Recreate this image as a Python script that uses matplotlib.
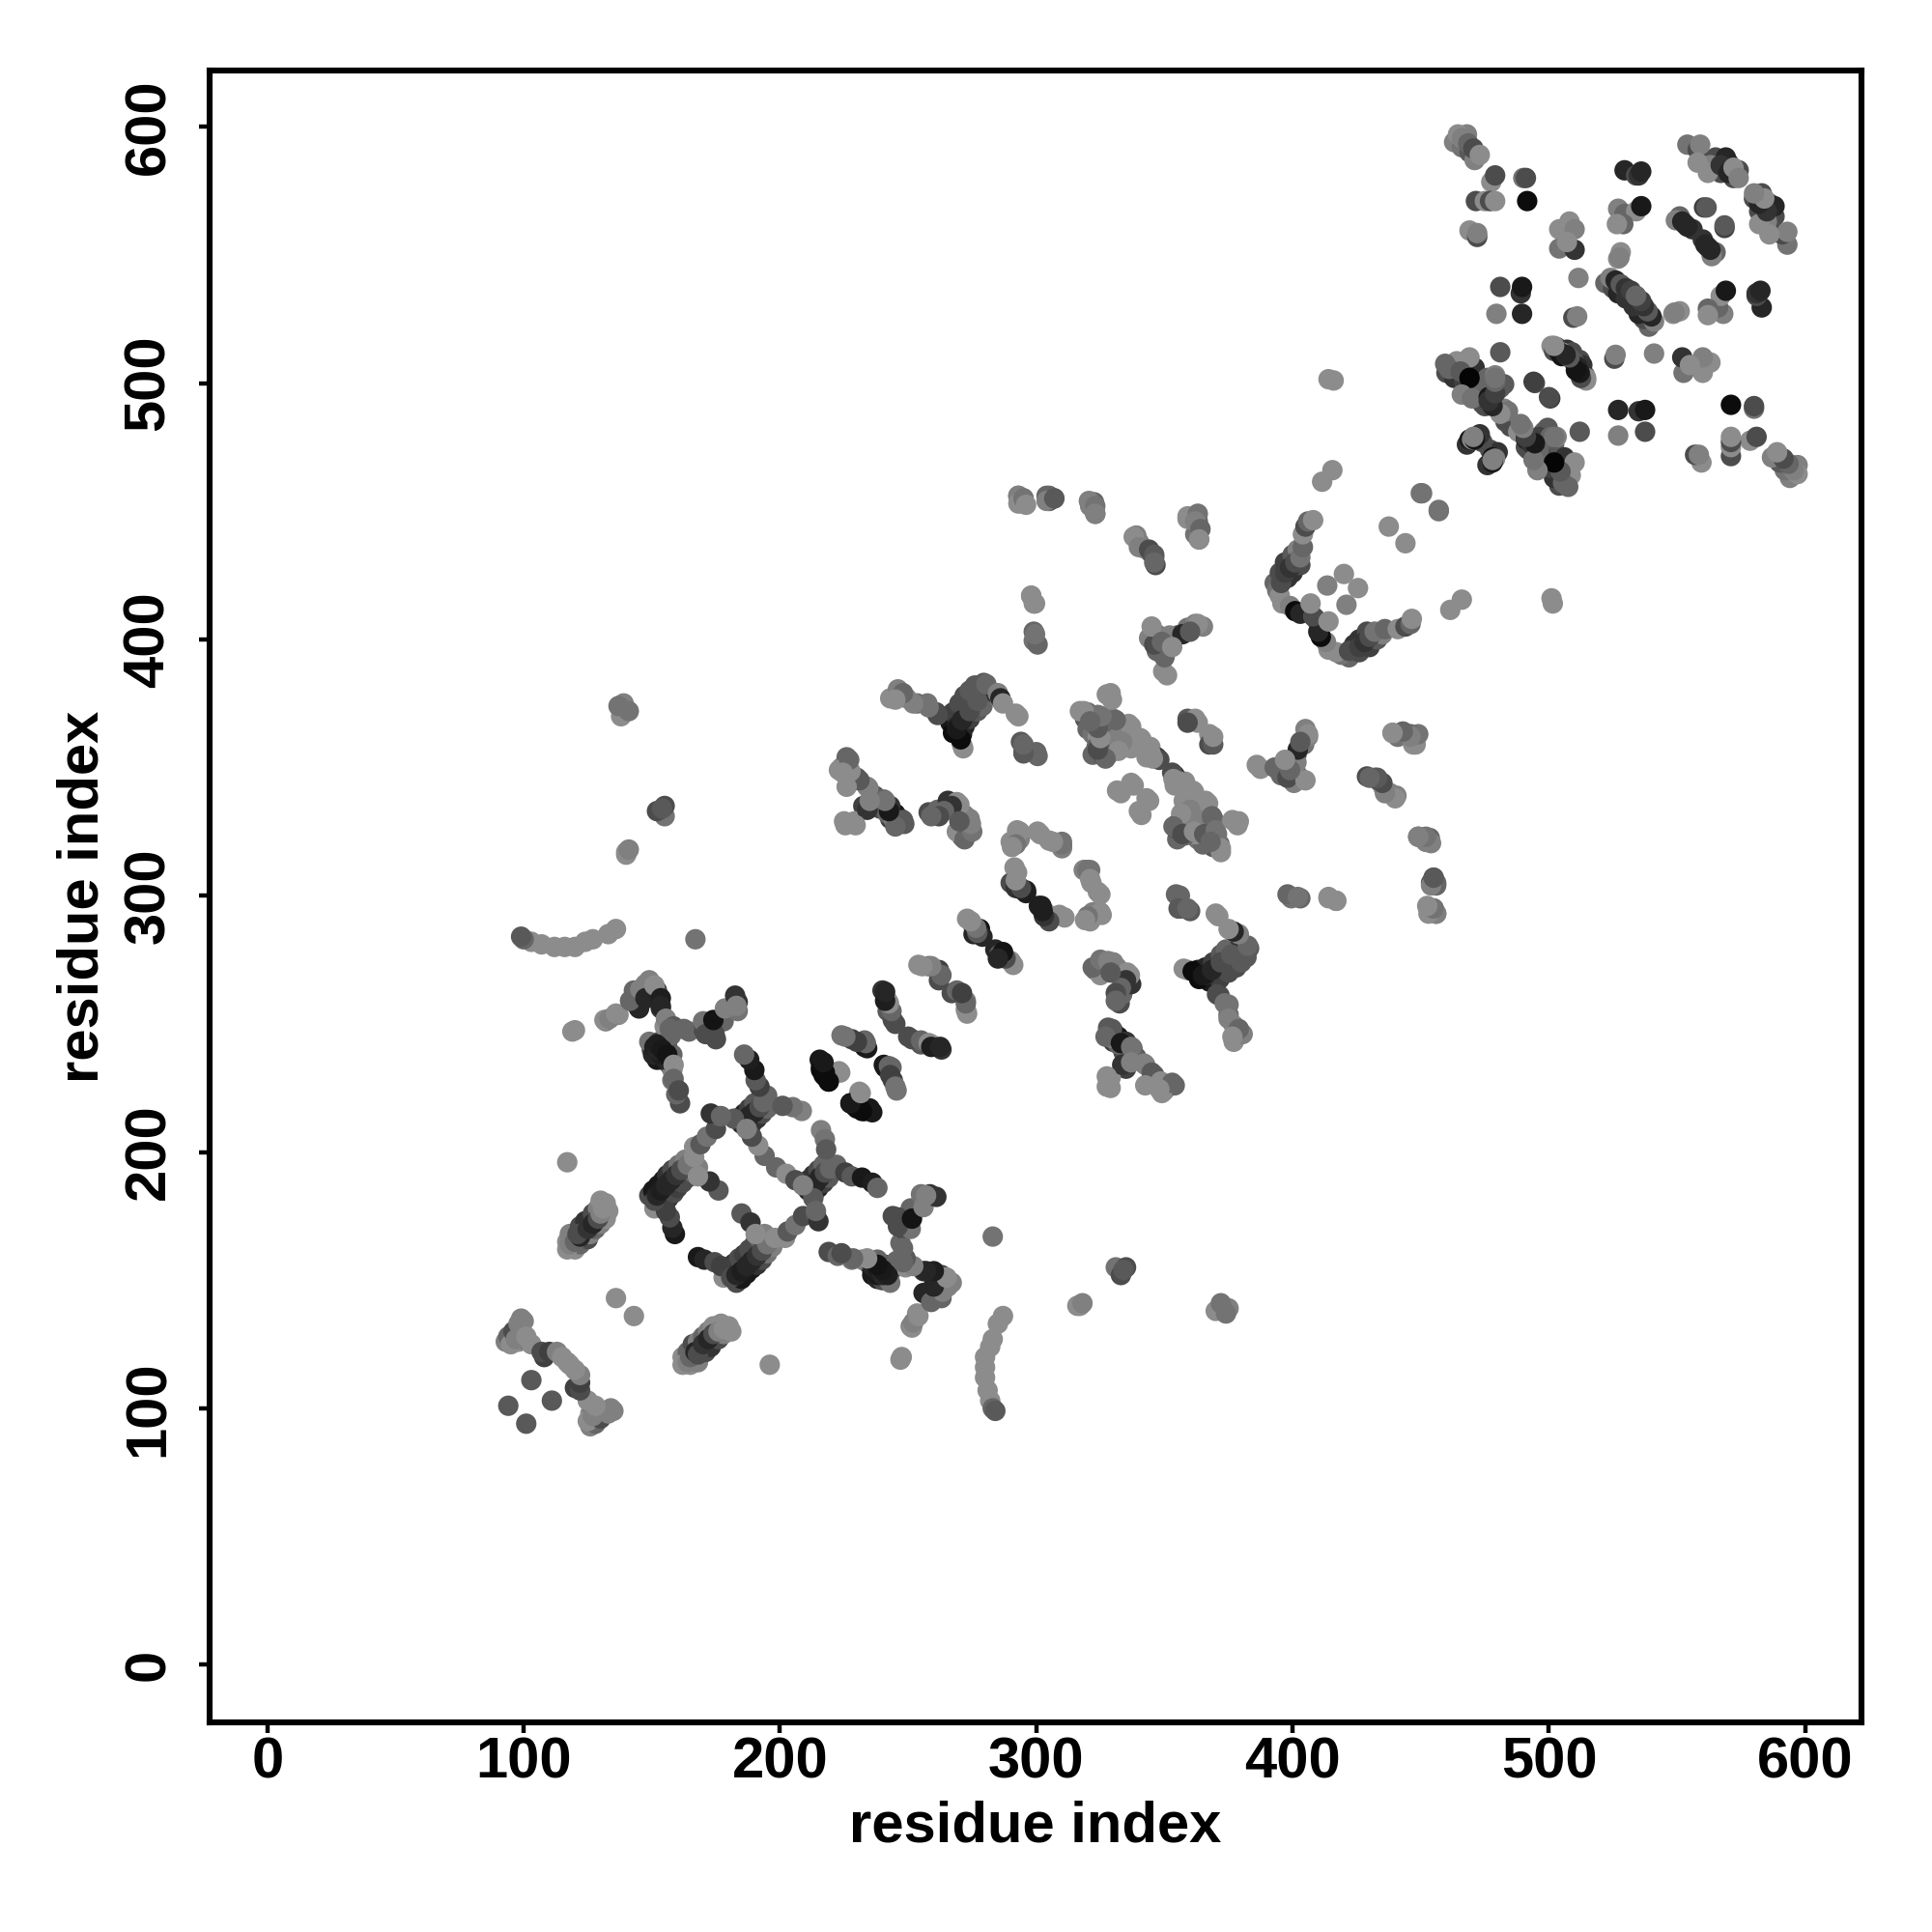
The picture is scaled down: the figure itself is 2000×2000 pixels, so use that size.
import matplotlib
matplotlib.use('Agg')
import matplotlib.pyplot as plt

# contact map: (residue i, residue j, grey level)
# the map is symmetric, so each contact is listed once and drawn both ways
ticks = [0, 100, 200, 300, 400, 500, 600]
axis_label = 'residue index'

# lower left corner
corner_a = [(94, 128, .4), (95, 125, .55), (96, 130, .3), (97, 127, .5), (98, 133, .5), (100, 134, .5),
            (101, 128, .55), (103, 125, .55), (107, 122, .3), (110, 122, .25), (113, 122, .5), (115, 120, .55),
            (94, 101, .35), (103, 111, .35), (136, 143, .55)]
corner_b = [(162, 117, .55), (164, 118, .5), (165, 120, .4), (167, 122, .15), (168, 121, .3), (170, 125, .2),
            (172, 127, .15), (174, 129, .3), (176, 130, .5), (178, 131, .55), (180, 132, .55)]
singles_low = [(196, 117, .55), (247, 119, .55), (247.5, 120, .55), (283, 167, .45), (317, 140, .55),
               (318, 141, .5), (333, 152, .3), (334, 154, .35), (372, 141, .45), (374, 137, .45)]
curve_280 = [(287, 136, .55), (285, 133, .55), (283, 127, .55), (282, 124, .55), (280, 120, .55),
             (280, 116, .55), (280, 112, .55), (281, 107, .55), (282, 103, .55), (283, 100, .4), (284, 99, .35)]

# central block
strand_a = [(178, 151, .55), (168, 159, .1), (170.5, 158, .15), (174.5, 157, .3), (177, 155.5, .25),
            (181, 151, .3), (183, 152, .15), (185, 153.5, .12), (187, 155.5, .15), (189, 157.5, .15),
            (191, 159.5, .2), (193, 161.5, .3), (195, 164, .45), (198, 166.5, .55), (202, 166.5, .55),
            (203, 169, .35), (206, 171.5, .45), (209, 175, .3), (214, 176, .35), (215, 173, .2)]
strand_b = [(211, 185, .15), (212.5, 186.5, .1), (214, 188, .15), (215.5, 190, .15), (217.5, 192, .3),
            (219.5, 193.5, .4), (222, 195, .4), (225.5, 192, .25), (228, 190.5, .35), (232, 190, .1),
            (236, 188, .12), (238, 186, .4), (216, 208.5, .5), (217.5, 205, .45), (218, 201, .35),
            (213, 182, .35), (214, 177, .4)]
strand_c = [(198.5, 194, .4), (202.5, 191.5, .55), (206, 189, .3), (209, 187, .5),
            (185, 176, .35), (188.5, 172.5, .2), (190.5, 168, .55)]
strand_d = [(219, 161, .3), (222.5, 159.5, .4), (228, 158, .45), (232, 158, .5), (236, 155.5, .15),
            (238, 153.5, .12), (240, 152, .15), (242.5, 155, .3), (245.5, 157.5, .4), (247, 164.5, .4),
            (248, 170, .3), (249.5, 174, .15), (251, 178, .4), (255, 183.5, .45), (258.5, 183.5, .2),
            (244, 175, .3)]
strand_e = [(249, 155, .55), (256, 153.5, .2), (260, 152, .2), (263.5, 151, .55), (257.5, 144, .4),
            (253.5, 137, .55), (251, 132, .5), (256, 145, .15), (260, 148, .2), (263, 148, .5)]
strand_f = [(131.5, 251.5, .55), (133.5, 252, .5), (136, 254, .55), (141.5, 259, .4), (145.5, 263.5, .5),
            (147.5, 265.5, .5), (147.5, 260, .15), (151, 265, .55), (153.5, 260, .12), (153.5, 257, .15),
            (155.5, 252, .5), (158.5, 249, .35), (162.5, 248, .4), (170, 251, .45), (171, 246, .3),
            (174.5, 246, .3), (174, 251.5, .08), (178.5, 256, .5), (182.5, 261, .2), (183, 257, .5)]
strand_g = [(152, 242, .12), (154, 240, .1), (156, 238, .08), (158.5, 234, .55), (158.5, 228.5, .4),
            (160.5, 224, .3), (157, 248, .4)]

# middle diagonal
band_a = [(243, 377, .55), (246, 380.5, .5), (249.5, 377, .55), (253.5, 375, .4), (257.5, 375, .45),
          (261, 371.5, .3), (266.5, 367.5, .1), (267.5, 371.5, .25), (270, 375, .3), (272, 378, .3),
          (274, 380, .35), (276, 382, .35), (279.5, 383, .35), (284, 379, .2), (286, 376.5, .55),
          (292, 371, .55), (267.5, 363.5, .05), (269, 366, .15), (271, 359, .55), (294, 360, .35),
          (295, 356, .3), (300, 356, .4), (299, 403, .4), (299, 399.5, .45)]
band_b = [(226, 354, .4), (223, 349, .55), (226, 348.5, .4), (230, 346, .35), (234, 342.5, .5),
          (232.5, 335, .25), (236, 335, .3), (240.5, 337.5, .4), (239, 334, .3), (242, 332, .4),
          (244.5, 329.5, .5), (248, 329.5, .35), (225, 329, .55), (229, 329, .55)]
band_c = [(258, 332.5, .3), (261.5, 333.5, .4), (265.5, 337, .2), (269, 336.5, .55), (272, 331.5, .5),
          (274, 330, .5), (274, 325.5, .4), (271, 323, .4), (269, 325, .55)]
band_d = [(290, 321, .55), (292.5, 325.5, .55), (293.5, 322, .5), (300.5, 325, .55), (305, 321.5, .55),
          (310, 319, .35), (310, 321, .45)]
band_e = [(291.5, 311, .55), (290, 305, .3), (292, 303, .2), (294, 302.5, .12), (296, 302, .12),
          (301, 296, .12), (303, 294, .3), (306, 292, .55), (309, 292.5, .55)]
band_f = [(318.5, 310, .5), (320, 310, .45), (321, 306.5, .55), (324, 301.5, .55), (325, 293.5, .55),
          (320, 292, .45), (319, 290.5, .55)]
band_g = [(273, 291, .55), (275.5, 288, .3), (278, 287, .08), (275.5, 285, .15), (284, 279, .15),
          (285.5, 277, .35), (287.5, 276.5, .45), (290, 274.5, .55)]
band_h = [(254, 273, .55), (258, 272.5, .4), (262, 271, .25), (267, 262, .3), (269, 263, .4),
          (272.5, 259, .5), (272.5, 255.5, .55), (240, 263, .2), (242, 259, .55), (242, 255, .35), (244, 251.5, .3)]
band_i = [(250, 245, .3), (255, 243.5, .4), (258, 242.5, .55), (259, 241, .12), (262.5, 241, .15),
          (224, 245.5, .45), (228, 244, .25), (233, 243.5, .4), (233, 241, .1)]
band_j = [(215.5, 236, .1), (216, 232, .05), (217, 230, .05), (219, 227.5, .1), (223, 231.5, .55),
          (240.5, 234, .1), (242.5, 233.5, .4), (243, 230, .25), (245, 225.5, .45),
          (231, 223.5, .55), (227.5, 219, .05), (231, 217.5, .05), (235, 217, .1)]

# right of the middle
patch_a = [(317, 372, .55), (320, 371.5, .4), (324, 370.5, .45), (330, 369, .45), (336, 367, .55),
           (340.5, 361.5, .55), (344.5, 358, .55), (347, 354, .2), (343, 354, .55), (324, 362, .55),
           (331.5, 361.5, .5), (326, 354.5, .35), (323.5, 358, .4), (337, 357.5, .55), (327.5, 378.5, .55),
           (359, 369, .35), (362, 369, .55), (367.5, 363, .55), (367.5, 359, .3)]
patch_b = [(347, 402, .45), (344, 400.5, .5), (348, 395, .55), (349.5, 387.5, .55), (352, 399, .2),
           (355, 401.5, .35), (359, 404.5, .45), (351, 397, .4), (362, 406, .5), (365, 405, .5)]
patch_c = [(331.5, 341, .55), (337, 344, .55), (343, 338, .55), (340, 333, .55)]
patch_d = [(353, 348, .3), (353.5, 345.5, .55), (356, 344.5, .55), (361, 341, .55), (366, 337, .55),
           (360, 333.5, .5), (356.5, 332, .55), (368.5, 331, .4), (353.5, 327, .4), (357, 324, .3),
           (361.5, 325, .55), (365.5, 324, .35), (370, 325.5, .45), (372, 318.5, .55), (376.5, 329.5, .55),
           (379, 329, .55), (368, 321, .4)]
patch_e = [(386, 351, .55), (393, 350, .4), (395.5, 347, .4), (398, 346, .3), (401.5, 352, .5),
           (402, 357, .15), (406, 363, .55), (405, 345, .55), (399, 349, .4), (403, 360, .35), (397, 353, .55)]
patch_f = [(354.5, 300.5, .4), (355.5, 295, .35), (359, 295, .4), (370, 293, .55), (398, 300.5, .4),
           (402, 299.5, .45), (414, 299.5, .55), (417, 298, .55)]
patch_g = [(322, 272, .4), (325, 275, .45), (328, 274.5, .5), (331.5, 271, .5), (335.5, 270, .55),
           (335, 267, .2), (333, 264, .4), (331, 262, .3), (331, 259, .4), (329, 270, .35)]
patch_h = [(357.5, 271.5, .55), (361, 270.5, .05), (365, 269, .1), (368.5, 271, .15), (372, 274, .3),
           (376, 277, .35), (382.5, 280.5, .4), (379, 285, .5), (377, 286, .15), (375, 287, .55),
           (370.5, 261.5, .3), (373.5, 258, .45), (375, 252, .5), (379, 248, .4), (376.5, 245, .55)]
patch_i = [(328, 248.5, .35), (327, 245, .4), (333, 242.5, .1), (337, 241, .45), (333.5, 234, .2),
           (337, 235, .5), (342, 234.5, .5), (345, 231, .35), (348.5, 227.5, .55), (353, 227, .4),
           (348, 224.5, .55), (342.5, 226, .55), (327.5, 229.5, .55), (327.5, 225.5, .55)]
patch_j = [(429, 346.5, .3), (432, 346, .4), (434, 344.5, .25), (435.5, 342, .5), (438, 340, .5),
           (440.5, 339, .5), (439, 363.5, .5), (443, 364, .55), (446, 363, .4), (448, 362.5, .3),
           (447, 359, .55), (449, 323, .45), (453.5, 322.5, .4), (454, 320.5, .5), (455, 307, .35),
           (456, 304, .4), (453, 295, .5), (456, 293, .4)]

# upper middle
ridge_a = [(293, 456, .5), (293, 453, .55), (295, 455, .45), (296, 452.5, .55), (305, 456, .4), (304, 454, .5),
           (307, 455, .35), (321, 452.5, .5), (323, 452, .45), (323, 449, .5), (338, 440, .55), (340, 436, .5),
           (344, 435, .3), (346, 433, .35), (346, 430, .4), (359, 448, .55), (363, 449, .45), (362, 446, .5),
           (364, 443, .4), (363.5, 439, .55), (298, 417, .55), (299, 414, .55)]
ridge_b = [(394, 419, .45), (395, 417, .55), (395.5, 422, .3), (397, 426, .25), (399, 428, .2), (401, 430, .3),
           (403, 432, .45), (404, 436, .4), (404, 441, .55), (405, 444, .3), (406, 446, .4), (408, 446.5, .55),
           (396, 414, .55), (399, 413, .5), (401, 411, .05), (403, 410, .15), (409, 408, .3)]
ridge_c = [(413.5, 421, .5), (420, 425.5, .55), (407, 414, .55), (437.5, 444, .55), (450, 457, .45),
           (457, 450.5, .45), (411.5, 461.5, .55), (415.5, 466, .55), (414, 501.5, .55), (416, 501, .55)]

# upper right block
block_a = [(464.5, 597, .55), (466, 595.5, .5), (468.5, 593.5, .4), (470.5, 591.5, .3), (473, 589, .55),
           (477.5, 578.5, .55), (479, 581, .3), (490, 580, .45), (491, 580, .3), (471.5, 571, .3), (475, 571, .55),
           (477, 571, .3), (479, 571, .55), (491.5, 571, .05), (469, 559.5, .55), (472, 557, .3), (472, 558.5, .5)]
block_b = [(481, 537.5, .3), (489, 535, .2), (489.5, 537.5, .1), (479.5, 527, .5), (489.5, 527, .15),
           (511.5, 541, .5), (509.5, 525.5, .3), (511, 526, .5), (508, 563, .55), (504, 560, .55), (510, 560, .5),
           (504, 552.5, .45), (510, 552, .2), (507, 555, .55)]
block_c = [(527, 568, .5), (529.5, 566, .4), (534, 567, .55), (536, 569, .1), (529, 562, .4), (526.5, 562, .55),
           (528, 551, .55), (527, 548.5, .55), (527.5, 549, .5), (529.5, 583, .15), (534, 581, .3), (535, 581, .2),
           (536, 582.5, .15)]
block_d = [(554, 593, .45), (558, 591, .3), (559, 593, .5), (558, 586, .55), (562, 582, .55), (569, 588, .15),
           (567, 585, .2), (570, 582, .15), (572, 584, .55), (574, 580, .5), (549.5, 563.5, .5), (552, 563, .15),
           (554, 561, .15), (560.5, 568.5, .25), (561.5, 568.5, .35)]
block_e = [(524, 541, .5), (526, 540, .15), (528, 538.5, .35), (530, 537, .2), (532, 536, .25), (534, 534, .4)]
block_f = [(481, 512, .35), (469, 510, .55), (464, 508.5, .55), (459.5, 507.5, .4), (461, 505.5, .4),
           (465.5, 504.5, .35), (469, 502, .02), (479, 503, .5), (479, 501.5, .4), (482.5, 499.5, .35),
           (494.5, 500, .3), (500.5, 494, .25), (501, 514.5, .55), (502, 512.5, .3), (504, 512, .1),
           (505, 510.5, .08), (510, 508, .35), (511, 506.5, .15), (514.5, 502, .55)]
block_g = [(466, 495.5, .5), (470, 494, .45), (476.5, 494.5, .1), (479, 491, .25), (482.5, 490, .5),
           (484, 489, .45), (469, 478, .1), (470, 478, .5), (478, 471, .08), (479, 470.5, .5), (488, 481, .55),
           (491, 478, .15), (493, 476.5, .2), (496, 479, .25), (500.5, 479, .4), (502, 479, .45)]

# contacts hidden under the ones above, they make the thick parts of the strands
under_corner = [(93, 126, .5), (96, 128, .2), (98, 126, .55), (99, 130, .3), (99, 135, .5), (100, 127, .4),
                (108, 120, .25), (117, 118, .55), (162, 120, .55), (164, 122, .4), (166, 125, .3), (168, 126, .5),
                (170, 128, .4), (172, 130, .5), (174, 132, .55), (177, 133, .55), (165, 117, .55), (168, 118, .5),
                (171, 122, .3), (173, 124, .2), (176, 127, .3), (178, 129, .5), (181, 130, .55)]
under_singles = [(372, 139, .4), (370, 138, .55), (375, 139, .5), (333, 153, .35), (331, 155, .45),
                 (335, 155, .3), (316, 140, .55), (441, 362, .45), (452, 321, .5), (455, 295, .45), (454, 305, .3)]
under_central = [(183, 149, .3), (185, 150.5, .1), (187, 152.5, .1), (189, 154.5, .1), (191, 156, .2),
                 (193, 158, .3), (195, 160.5, .45), (197, 163, .5), (180, 155, .3), (182, 156.5, .2),
                 (184, 158.5, .3), (186, 160, .25), (188, 162, .3), (190, 164, .3), (192, 166, .4), (194, 168, .5),
                 (213, 183, .2), (215, 186, .15), (217, 188, .25), (219, 190, .35), (209, 187, .3), (211, 189, .2),
                 (213, 191, .2), (215, 193, .3), (217, 195, .4), (150, 240, .3), (152, 238, .1), (154, 236, .1),
                 (156, 241, .3), (158, 238, .4), (149, 243, .45), (147, 263, .15), (150, 262, .15), (145, 261, .4),
                 (143, 263, .4), (149, 267, .5), (152, 263, .3), (236, 152, .1), (238, 150.5, .15), (241, 151, .12),
                 (243, 153, .3), (234, 157, .2), (240, 155, .15)]
under_band = [(268, 369, .1), (270, 371, .15), (272, 374, .2), (274, 376, .3), (276, 378, .3), (278, 380, .35),
              (217, 234, .05), (218, 231, .05), (229, 218, .05), (233, 216, .05)]
under_patch = [(363, 271, .1), (366, 272, .15), (369, 274, .25), (372, 277, .35), (374, 279, .4),
               (319, 369, .35), (322, 367, .4), (320, 365, .4), (325, 364, .5), (322, 355, .4), (325, 357, .35),
               (328, 358, .5), (333, 358, .5), (355, 328, .35), (356, 323, .4), (359, 324, .4), (363, 322, .45),
               (367, 327, .4), (369, 323, .3), (330, 247, .2), (332, 245, .1), (335, 243, .2), (330, 243, .25),
               (334, 240, .2), (339, 237, .35), (345, 229, .35), (350, 224, .5)]
under_ridge = [(393, 422, .4), (395, 426, .3), (397, 430, .25), (400, 433, .35), (402, 435, .5), (398, 424, .2),
               (400, 426, .2), (403, 429, .3)]
under_block = [(551, 565, .4), (553, 562, .1), (556, 560, .2), (570, 586, .2), (567, 582, .3), (572, 580, .3),
               (565, 588, .3), (563, 585, .5), (574, 583, .3), (463, 594, .5), (466, 592, .45), (469, 590, .35),
               (471, 587, .5), (468, 597, .5), (522, 539, .4), (525, 537, .3), (527, 535, .15), (530, 533, .2),
               (460, 504, .3), (463, 502, .2),
               (467, 500, .25), (471, 506, .2), (476, 500, .35), (472, 497, .3), (474, 496, .4), (503, 514, .3),
               (507, 513, .2), (508, 510, .15), (512, 509, .3), (512, 505, .5), (475, 491, .3), (468, 476, .2),
               (477, 474, .3), (485, 483, .3), (490, 481, .3), (495, 477, .3), (498, 481, .4), (480, 473, .2),
               (492, 474, .3), (502, 476, .4)]

regions = [under_corner, under_singles, under_central, under_band, under_patch, under_ridge, under_block,
           corner_a, corner_b, singles_low, curve_280, strand_a, strand_b, strand_c, strand_d, strand_e,
           strand_f, strand_g, band_a, band_b, band_c, band_d, band_e, band_f, band_g, band_h, band_i, band_j,
           patch_a, patch_b, patch_c, patch_d, patch_e, patch_f, patch_g, patch_h, patch_i, patch_j,
           ridge_a, ridge_b, ridge_c, block_a, block_b, block_c, block_d, block_e, block_f, block_g]

plt.rcParams['font.family'] = ['Liberation Sans', 'DejaVu Sans']
plt.rcParams['font.weight'] = 'bold'

fig = plt.figure(figsize=(10, 10), dpi=200)
ax = fig.add_axes([0.1084, 0.1084, 0.8552, 0.8552])

for region in regions:
    xs = [p[0] for p in region] + [p[1] for p in region]
    ys = [p[1] for p in region] + [p[0] for p in region]
    greys = [p[2] for p in region] * 2
    ax.scatter(xs, ys, c=greys, cmap='gray', vmin=0, vmax=1, s=58, linewidths=0, zorder=2)

ax.set_xlim(-22.6, 622)
ax.set_ylim(-22.6, 622)
ax.set_xticks(ticks)
ax.set_yticks(ticks)
ax.tick_params(axis='x', length=4, width=1.6, labelsize=21.5, pad=1.2)
ax.tick_params(axis='y', length=4, width=1.6, labelsize=21.5, pad=8.5)
for lab in ax.get_yticklabels():
    lab.set_rotation(90)
    lab.set_va('center')
for spine in ax.spines.values():
    spine.set_linewidth(2.2)

ax.set_xlabel(axis_label, fontsize=21.5, fontweight='bold', labelpad=3.8)
ax.set_ylabel(axis_label, fontsize=21.5, fontweight='bold', labelpad=4.8)

fig.savefig('out.png', dpi=200, facecolor='white')
